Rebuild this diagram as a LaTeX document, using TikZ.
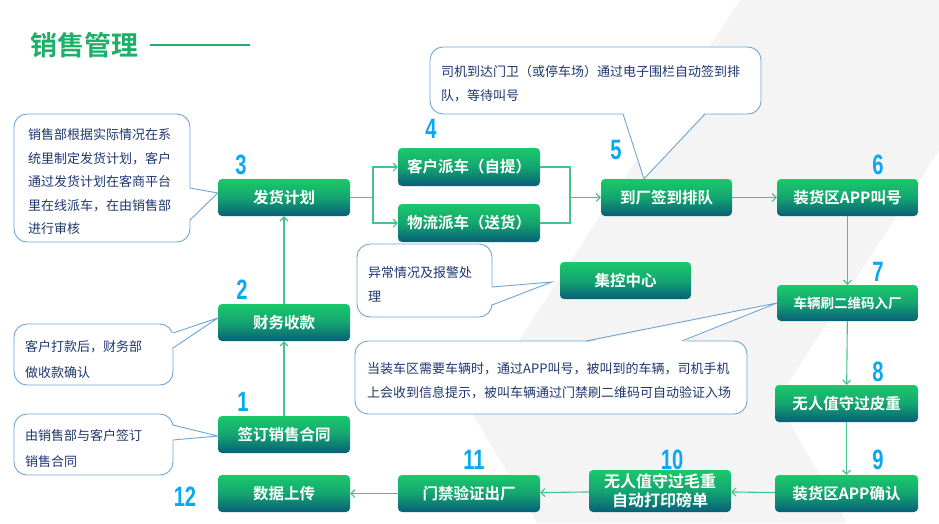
\documentclass[tikz,border=0pt]{standalone}
\usepackage{fontspec}
\setmainfont{Noto Sans CJK SC}[BoldFont={Noto Sans CJK SC Bold}]
\newfontfamily\numfont{Liberation Sans}
\usetikzlibrary{arrows.meta,calc}
\definecolor{gtop}{RGB}{26,201,106}
\definecolor{gmid}{RGB}{20,165,112}
\definecolor{gbot}{RGB}{8,94,120}
\definecolor{numblue}{RGB}{10,168,240}
\definecolor{cline}{RGB}{110,165,213}
\definecolor{ctext}{RGB}{30,55,110}
\definecolor{conncol}{RGB}{70,195,140}
\definecolor{titlegreen}{RGB}{30,175,105}
\definecolor{bggray}{RGB}{244,244,244}
\begin{document}
\begin{tikzpicture}[x=1pt,y=-1pt,
  stepbox/.style={rectangle, rounded corners=4pt, top color=gtop, bottom color=gbot, middle color=gmid,
    text=white, font=\bfseries\fontsize{15.5}{18}\selectfont, minimum height=37pt, inner sep=0pt, align=center},
  numlabel/.style={font=\numfont\bfseries\fontsize{28}{28}\selectfont, text=numblue, inner sep=0pt, xscale=0.72},
  callbox/.style={rectangle, rounded corners=13pt, draw=cline, line width=0.9pt, fill=white, inner sep=0pt},
  callline/.style={draw=cline, line width=0.9pt},
  calltext/.style={text=ctext, align=left, inner sep=0pt, anchor=west},
  conn/.style={draw=conncol, line width=1.1pt, -{Straight Barb[length=4pt,width=8pt]}},
  connplain/.style={draw=conncol, line width=1.1pt}]
\useasboundingbox (0,0) rectangle (939,523);
% background band
\fill[bggray] (740,0) -- (1037,0) -- (777,400) -- (847,523) -- (537,523) -- (472,413) -- cycle;
\fill[white] (939,0) rectangle (945,523);

% title
\node[font=\bfseries\fontsize{27}{30}\selectfont, text=titlegreen, inner sep=0pt] (title) at (84,45) {销售管理};
\coordinate (tl1) at (150,45);
\coordinate (tl2) at (250,45);
\draw[titlegreen, line width=1.1pt] (tl1) -- (tl2);

% step nodes
\node[stepbox, minimum width=132pt] (n3) at (284,197.5) {发货计划};
\node[stepbox, minimum width=132pt] (n2) at (284,322.5) {财务收款};
\node[stepbox, minimum width=132pt] (n1) at (284,434.5) {签订销售合同};
\node[stepbox, minimum width=132pt] (n12) at (284,493.5) {数据上传};
\node[stepbox, minimum width=142pt, minimum height=38pt] (n4a) at (469,167) {客户派车（自提）};
\node[stepbox, minimum width=142pt, minimum height=38pt] (n4b) at (469,223) {物流派车（送货）};
\node[stepbox, minimum width=131pt] (n5) at (666.5,197.5) {到厂签到排队};
\node[stepbox, minimum width=141pt] (n6) at (847.5,197.5) {装货区APP叫号};
\node[stepbox, minimum width=141pt, minimum height=36pt, font=\bfseries\fontsize{13.5}{16}\selectfont] (n7) at (847.5,303) {车辆刷二维码入厂};
\node[stepbox, minimum width=143pt] (n8) at (846.5,403.5) {无人值守过皮重};
\node[stepbox, minimum width=143pt] (n9) at (846.5,493.5) {装货区APP确认};
\node[stepbox, minimum width=142pt, minimum height=42pt, font=\bfseries\fontsize{16}{19.5}\selectfont] (n10) at (660,491) {无人值守过毛重\\自动打印磅单};
\node[stepbox, minimum width=142pt] (n11) at (469,493.5) {门禁验证出厂};
\node[stepbox, minimum width=131pt] (njk) at (625.5,280.5) {集控中心};

% connectors
\draw[conn] (n1) -- (n2);
\draw[conn] (n2) -- (n3);
\coordinate (j1) at (373,197.5);
\coordinate (j2) at (570,197.5);
\draw[connplain] (n3.east) -- (j1);
\draw[conn] (j1) |- (n4a.west);
\draw[conn] (j1) |- (n4b.west);
\draw[connplain] (n4a.east) -| (j2);
\draw[connplain] (n4b.east) -| (j2);
\draw[conn] (j2) -- (n5.west);
\draw[conn] (n5) -- (n6);
\draw[conn] (n6) -- (n7);
\draw[conn] (n7) -- (n8);
\draw[conn] (n8) -- (n9);
\draw[conn] (n9) -- (n10);
\draw[conn] (n10) -- (n11);
\draw[conn] (n11) -- (n12);

% callout 3
\node[callbox, minimum width=176pt, minimum height=128pt] (c3box) at (102,178) {};
\coordinate (c3a) at (190,188); \coordinate (c3b) at (190,220);
\coordinate (c3t) at ([yshift=4.5pt]n3.west);
\fill[white] (188.5,188) -- (c3t) -- (188.5,220) -- cycle;
\draw[callline] (c3a) -- (c3t) -- (c3b);
\node[calltext, font=\fontsize{13}{23.5}\selectfont] (c3txt) at (28,182) {销售部根据实际情况在系\\统里制定发货计划，客户\\通过发货计划在客商平台\\里在线派车，在由销售部\\进行审核};

% callout 2
\node[callbox, minimum width=159pt, minimum height=61pt] (c2box) at (93.5,354.5) {};
\coordinate (c2a) at (173,333); \coordinate (c2b) at (173,348);
\coordinate (c2t) at ([yshift=4.5pt]n2.west);
\fill[white] (171.5,333) -- (c2t) -- (171.5,348) -- cycle;
\draw[callline] (c2a) -- (c2t) -- (c2b);
\node[calltext, font=\fontsize{13}{26}\selectfont] (c2txt) at (25,359) {客户打款后，财务部\\做收款确认};

% callout 1
\node[callbox, minimum width=159pt, minimum height=61pt] (c1box) at (93.5,444.5) {};
\coordinate (c1a) at (173,425); \coordinate (c1b) at (173,440);
\coordinate (c1t) at ([yshift=-1.5pt]n1.west);
\fill[white] (171.5,425) -- (c1t) -- (171.5,440) -- cycle;
\draw[callline] (c1a) -- (c1t) -- (c1b);
\node[calltext, font=\fontsize{13}{26.5}\selectfont] (c1txt) at (25,448.5) {由销售部与客户签订\\销售合同};

% callout 5
\node[callbox, minimum width=331pt, minimum height=67pt] (c5box) at (595.5,80.5) {};
\coordinate (c5a) at (623,114); \coordinate (c5b) at (705,114);
\coordinate (c5t) at ([xshift=-22.5pt]n5.north);
\fill[white] (623,112.5) -- (c5t) -- (705,112.5) -- cycle;
\draw[callline] (c5a) -- (c5t) -- (c5b);
\node[calltext, font=\fontsize{13}{23.5}\selectfont] (c5txt) at (441,83.5) {司机到达门卫（或停车场）通过电子围栏自动签到排\\队，等待叫号};

% callout jk
\node[callbox, minimum width=135pt, minimum height=73pt] (cjbox) at (424.5,280.5) {};
\coordinate (cja) at (492,287); \coordinate (cjb) at (492,305);
\coordinate (cjt) at ([xshift=-8pt,yshift=-1.5pt]njk.west);
\fill[white] (490.5,287) -- (cjt) -- (490.5,305) -- cycle;
\draw[callline] (cja) -- (cjt) -- (cjb);
\node[calltext, font=\fontsize{13}{24}\selectfont] (cjtxt) at (368,284) {异常情况及报警处\\理};

% callout 7
\node[callbox, minimum width=392pt, minimum height=73pt] (c7box) at (551,377.5) {};
\coordinate (c7a) at (586,341); \coordinate (c7b) at (682,341);
\coordinate (c7t) at (n7.west);
\fill[white] (586,342.5) -- (c7t) -- (682,342.5) -- cycle;
\draw[callline] (c7a) -- (c7t) -- (c7b);
\node[calltext, font=\fontsize{13}{24}\selectfont] (c7txt) at (367,381) {当装车区需要车辆时，通过APP叫号，被叫到的车辆，司机手机\\上会收到信息提示，被叫车辆通过门禁刷二维码可自动验证入场};

% numbers
\node[numlabel] (k3) at (241,165) {3};
\node[numlabel] (k2) at (242,290) {2};
\node[numlabel] (k1) at (243,402) {1};
\node[numlabel] (k12) at (185,497) {12};
\node[numlabel] (k4) at (431,129) {4};
\node[numlabel] (k5) at (616,150) {5};
\node[numlabel] (k6) at (878,165) {6};
\node[numlabel] (k7) at (878,272) {7};
\node[numlabel] (k8) at (878,372) {8};
\node[numlabel] (k9) at (878,460) {9};
\node[numlabel] (k10) at (672,460) {10};
\node[numlabel] (k11) at (474,460) {11};
\end{tikzpicture}
\end{document}
